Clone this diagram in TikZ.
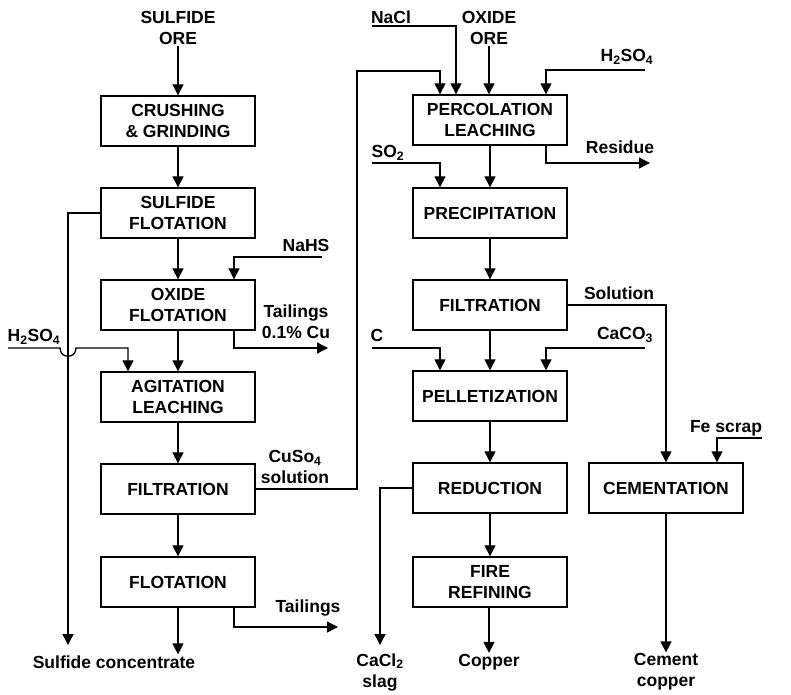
\documentclass[tikz,border=0pt]{standalone}
\usepackage{fontspec}
\setmainfont{Liberation Sans}
\usetikzlibrary{arrows.meta}
\newcommand{\chsub}[1]{\textsubscript{#1}}
\begin{document}
\begin{tikzpicture}[x=1pt,y=-1pt,
  every node/.style={font=\fontsize{17.5}{21}\selectfont\bfseries, inner sep=1pt},
  box/.style={draw, line width=1.4pt, minimum width=154pt, minimum height=50pt, align=center},
  lbl/.style={align=center},
  arr/.style={line width=1.3pt, -{Triangle[length=11pt,width=11pt]}},
  ln/.style={line width=1.3pt}]
\useasboundingbox (0,0) rectangle (791,694);
% left column
\node[box] (crush) at (178,121) {CRUSHING\\\& GRINDING};
\node[box] (sflot) at (178,213) {SULFIDE\\FLOTATION};
\node[box] (oflot) at (178,305) {OXIDE\\FLOTATION};
\node[box] (agit)  at (178,397) {AGITATION\\LEACHING};
\node[box] (filt1) at (178,489) {FILTRATION};
\node[box] (flot)  at (178,582) {FLOTATION};
% middle column
\node[box] (perc)  at (490,120) {PERCOLATION\\LEACHING};
\node[box] (prec)  at (490,213) {PRECIPITATION};
\node[box] (filt2) at (490,305) {FILTRATION};
\node[box] (pell)  at (490,396) {PELLETIZATION};
\node[box] (red)   at (490,488) {REDUCTION};
\node[box] (fire)  at (490,582) {FIRE\\REFINING};
% right
\node[box] (cem)   at (666,488) {CEMENTATION};
% labels
\node[lbl] (sore) at (178,28) {SULFIDE\\ORE};
\node[lbl] (oore) at (489,28) {OXIDE\\ORE};
\node[lbl] (sconc) at (114,662) {Sulfide concentrate};
\node[lbl] (copper) at (489,662) {Copper};
\node[lbl] (slag) at (380,672) {CaCl\chsub{2}\\slag};
\node[lbl] (cemcu) at (666,672) {Cement\\copper};
\node[lbl] at (306,245) {NaHS};
\node[lbl] at (296,322) {Tailings\\0.1\% Cu};
\node[lbl] at (34,337) {H\chsub{2}SO\chsub{4}};
\node[lbl] at (295,467) {CuSo\chsub{4}\\solution};
\node[lbl] at (308,608) {Tailings};
\node[lbl] at (391,17) {NaCl};
\node[lbl] at (627,57) {H\chsub{2}SO\chsub{4}};
\node[lbl] at (620,147) {Residue};
\node[lbl] at (388,153) {SO\chsub{2}};
\node[lbl] at (619,293) {Solution};
\node[lbl] at (377,335) {C};
\node[lbl] at (625,335) {CaCO\chsub{3}};
\node[lbl] at (726,428) {Fe scrap};
% free-end coordinates
\coordinate (sconcA) at (68,645);
\coordinate (nahs0) at (322,257);
\coordinate (hl0) at (8,348);
\coordinate (tail1) at (328,348);
\coordinate (cu1) at (357,71);
\coordinate (tail2) at (338,627);
\coordinate (nacl0) at (372,26);
\coordinate (hr0) at (645,70);
\coordinate (res0) at (650,163);
\coordinate (so20) at (372,163);
\coordinate (c0) at (372,348);
\coordinate (caco0) at (645,348);
\coordinate (slagA) at (380,645);
\coordinate (fe0) at (762,438);
% left flow
\draw[arr] (sore) -- (crush);
\draw[arr] (crush) -- (sflot);
\draw[arr] (sflot) -- (oflot);
\draw[arr] (oflot) -- (agit);
\draw[arr] (agit) -- (filt1);
\draw[arr] (filt1) -- (flot);
\draw[arr] (flot.south) -- (flot.south |- sconc.north);
\draw[arr] (sflot.west) -| (sconcA);
\draw[arr] (nahs0) -| ([xshift=56pt]oflot.north);
\draw[arr] (hl0) -- (60,348) .. controls (60,359) and (76,359) .. (76,348) -| ([xshift=-50pt]agit.north);
\draw[arr] ([xshift=56pt]oflot.south) |- (tail1);
\draw[arr] (filt1.east) -| (cu1) -| ([xshift=-50pt]perc.north);
\draw[arr] ([xshift=56pt]flot.south) |- (tail2);
% middle flow
\draw[arr] (nacl0) -| ([xshift=-34pt]perc.north);
\draw[arr] (oore) -- (perc.north -| oore);
\draw[arr] (hr0) -| ([xshift=56pt]perc.north);
\draw[arr] ([xshift=56pt]perc.south) |- (res0);
\draw[arr] (perc) -- (prec);
\draw[arr] (so20) -| ([xshift=-50pt]prec.north);
\draw[arr] (prec) -- (filt2);
\draw[arr] (filt2.east) -| (cem.north);
\draw[arr] (filt2) -- (pell);
\draw[arr] (c0) -| ([xshift=-50pt]pell.north);
\draw[arr] (caco0) -| ([xshift=56pt]pell.north);
\draw[arr] (pell) -- (red);
\draw[arr] (red) -- (fire);
\draw[arr] (fire.south -| copper) -- (copper);
\draw[arr] (red.west) -| (slagA);
\draw[arr] (fe0) -| ([xshift=51pt]cem.north);
\draw[arr] (cem) -- (cemcu);
\end{tikzpicture}
\end{document}
